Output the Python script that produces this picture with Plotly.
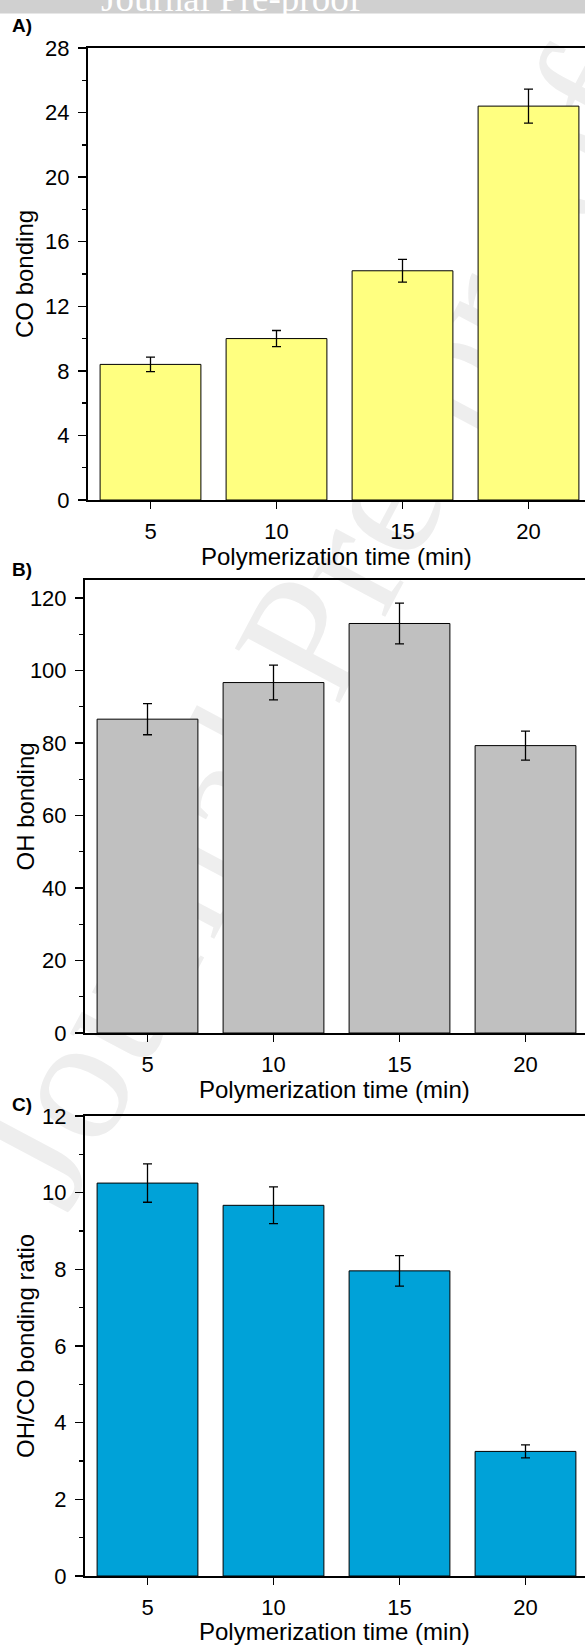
import plotly.graph_objects as go

# ---- data ----
times = [5, 10, 15, 20]
x_ticks = [5, 10, 15, 20]
co_bonding = [8.4, 10.0, 14.2, 24.4]
co_err = [0.45, 0.5, 0.7, 1.05]
oh_bonding = [86.6, 96.7, 113.0, 79.3]
oh_err = [4.3, 4.8, 5.6, 4.0]
ratio = [10.25, 9.67, 7.96, 3.25]
ratio_err = [0.5, 0.48, 0.4, 0.17]

W, H = 585, 1647
FONT = "Arial, Liberation Sans, Helvetica, sans-serif"
SERIF = "Liberation Serif, Times New Roman, serif"


def py(px):
    return 1 - px / H


def px_(px):
    return px / W


panels = [
    dict(y=co_bonding, err=co_err, color="#FFFF80", top=48, bottom=500, left=87.5,
         yr=[0, 28], dtick=4, minor=2, title="CO bonding", label="A)", label_y=25,
         xt_gap=56),
    dict(y=oh_bonding, err=oh_err, color="#C0C0C0", top=580, bottom=1033, left=84.5,
         yr=[0, 125], dtick=20, minor=10, title="OH bonding", label="B)", label_y=569,
         xt_gap=56),
    dict(y=ratio, err=ratio_err, color="#00A2D8", top=1116, bottom=1576, left=84.5,
         yr=[0, 12], dtick=2, minor=1, title="OH/CO bonding ratio", label="C)", label_y=1104,
         xt_gap=55),
]

PX_PER_UNIT = 25.2

fig = go.Figure()
annotations = []
shapes = []

# banner + watermark (drawn below everything)
shapes.append(dict(type="rect", xref="paper", yref="paper", x0=0, x1=1, y0=py(13.5), y1=1,
                   fillcolor="#d0d0d0", line=dict(width=0), layer="below"))
shapes.append(dict(type="rect", xref="paper", yref="paper", x0=0, x1=1, y0=py(1240), y1=py(0),
                   fillcolor="rgba(0,0,0,0)", line=dict(width=0), layer="below",
                   label=dict(text="Journal Pre-proof", textangle=-62,
                              textposition="middle center",
                              font=dict(family=SERIF, size=180, color="#eeeeee"))))

annotations.append(dict(text="Journal Pre-proof", xref="paper", yref="paper",
                        x=px_(231), y=py(21), xanchor="center", yanchor="bottom",
                        showarrow=False,
                        font=dict(family=SERIF, size=37, color="white")))

layout = dict(width=W, height=H, margin=dict(l=0, r=0, t=0, b=0, autoexpand=False),
              paper_bgcolor="white", plot_bgcolor="rgba(0,0,0,0)", hovermode=False,
              showlegend=False, font=dict(family=FONT, size=22, color="black"))

for i, p in enumerate(panels, start=1):
    xa = "x" if i == 1 else f"x{i}"
    ya = "y" if i == 1 else f"y{i}"
    fig.add_trace(go.Bar(
        x=times, y=p["y"], width=4, xaxis=xa, yaxis=ya,
        marker=dict(color=p["color"], line=dict(color="black", width=1)),
        error_y=dict(type="data", array=p["err"], visible=True, color="black",
                     thickness=1.3, width=4.5),
    ))
    ydom = [py(p["bottom"]), py(p["top"])]
    xdom = [px_(p["left"]), 1]
    xmax = 2.5 + (W - p["left"]) / PX_PER_UNIT
    layout[f"xaxis{'' if i == 1 else i}"] = dict(
        domain=xdom, anchor=ya, range=[2.5, xmax], tickvals=x_ticks,
        ticks="outside", ticklen=7, tickwidth=1.3, tickcolor="black",
        showline=True, linewidth=2, linecolor="black", mirror=True,
        showgrid=False, zeroline=False, tickfont=dict(size=22, family=FONT),
        ticklabelstandoff=4, automargin=False,
    )
    layout[f"yaxis{'' if i == 1 else i}"] = dict(
        domain=ydom, anchor=xa, range=p["yr"], dtick=p["dtick"], tick0=0,
        ticks="outside", ticklen=8, tickwidth=1.3, tickcolor="black",
        minor=dict(ticks="outside", ticklen=4, dtick=p["minor"], tickwidth=1.3,
                   tickcolor="black"),
        showline=True, linewidth=1.5, linecolor="black", mirror=False,
        showgrid=False, zeroline=False, tickfont=dict(size=22, family=FONT),
        ticklabelstandoff=4, automargin=False,
    )
    # y title
    annotations.append(dict(text=p["title"], xref="paper", yref="paper",
                            x=px_(25), y=(ydom[0] + ydom[1]) / 2, textangle=-90,
                            xanchor="center", yanchor="middle", showarrow=False,
                            font=dict(family=FONT, size=24, color="black")))
    # x title
    annotations.append(dict(text="Polymerization time (min)", xref="paper", yref="paper",
                            x=(xdom[0] + xdom[1]) / 2, y=py(p["bottom"] + p["xt_gap"]),
                            xanchor="center", yanchor="middle", showarrow=False,
                            font=dict(family=FONT, size=24, color="black")))
    # panel label
    annotations.append(dict(text=f"<b>{p['label']}</b>", xref="paper", yref="paper",
                            x=px_(10), y=py(p["label_y"]), xanchor="left", yanchor="middle",
                            showarrow=False, font=dict(family=FONT, size=19, color="black")))

layout["annotations"] = annotations
layout["shapes"] = shapes
fig.update_layout(**layout)
fig.write_html(
    "out.html",
    config={"displayModeBar": False, "staticPlot": True},
    post_script="document.body.style.margin='0';document.body.style.padding='0';"
                "document.documentElement.style.overflow='hidden';",
)
